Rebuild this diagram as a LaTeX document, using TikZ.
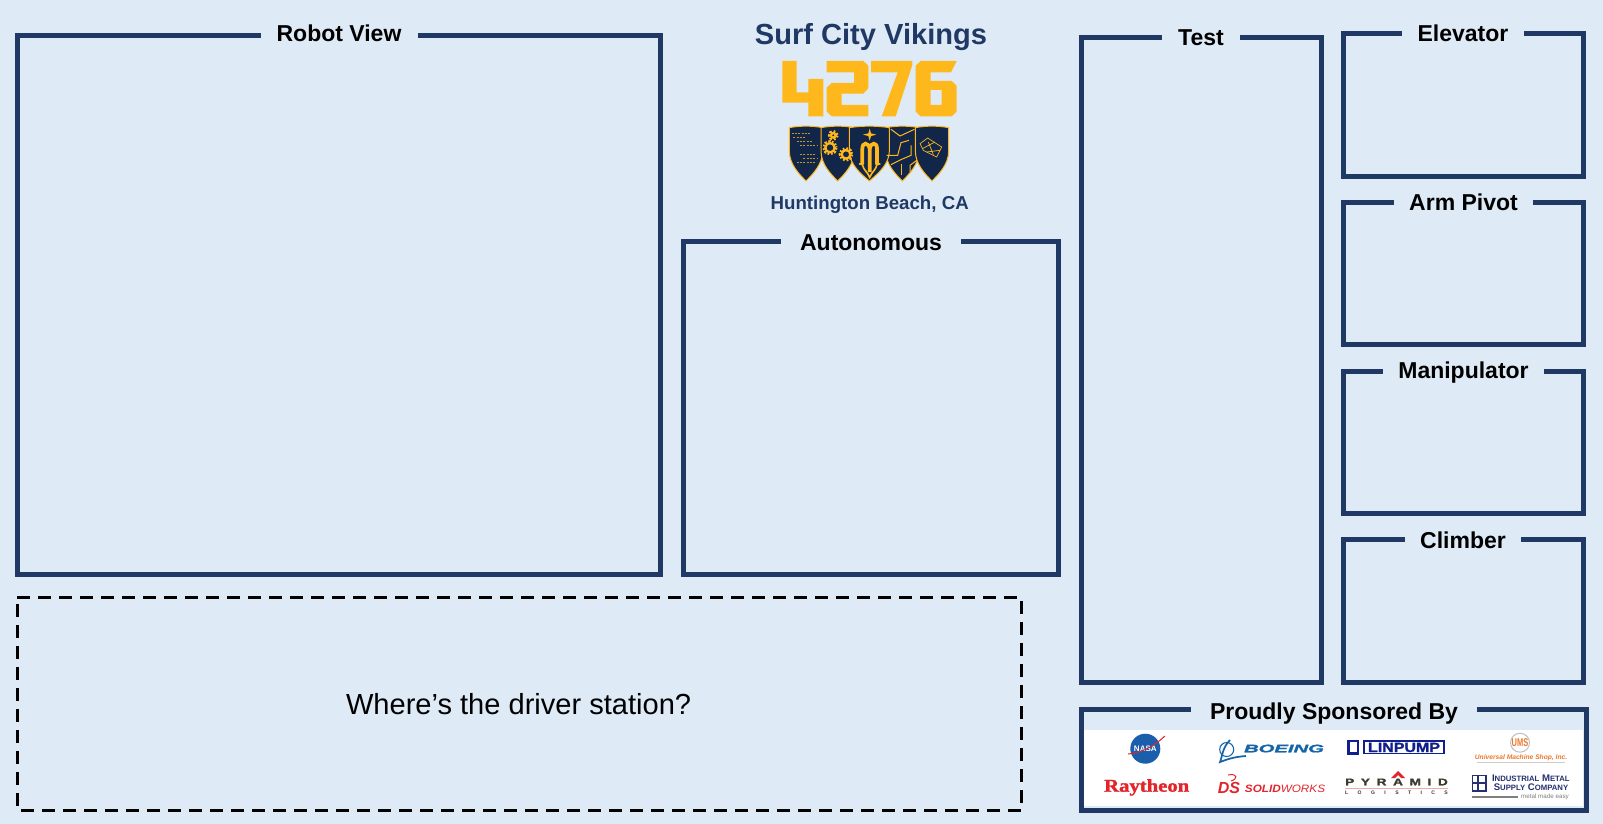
\documentclass[tikz,border=0pt]{standalone}
\usepackage{fontspec}
\usepackage{graphicx}
\setmainfont{Liberation Sans}
\newfontfamily\logoserif[UprightFont=* Bold, FakeBold=1.6]{Liberation Serif}
\newfontfamily\logoheavy[UprightFont=* Bold, ItalicFont=* Bold Italic, FakeBold=1.4]{Liberation Sans}
\usetikzlibrary{calc}
\definecolor{bgBlue}{HTML}{DEEAF6}
\definecolor{panelNavy}{HTML}{1F3864}
\definecolor{logoGold}{HTML}{FFB81C}
\definecolor{shieldNavy}{HTML}{12264A}
\definecolor{nasaBlue}{HTML}{1B5EAB}
\definecolor{boeingBlue}{HTML}{1565A8}
\definecolor{logoRed}{HTML}{E3242B}
\definecolor{pumpBlue}{HTML}{0F1F8C}
\definecolor{umsOrange}{HTML}{E8792B}
\definecolor{pyrGrey}{HTML}{3B3B2F}
\definecolor{imsNavy}{HTML}{25306F}
\definecolor{imsGrey}{HTML}{7F7F7F}
\tikzset{
  panelbox/.style={draw=panelNavy, line width=3.75pt},
  paneltitle/.style={fill=bgBlue, anchor=base, inner sep=0pt, text=black,
                     font=\fontsize{17.25}{20}\selectfont\bfseries},
  headtext/.style={anchor=base, inner sep=0pt, text=panelNavy, font=\bfseries},
  logotext/.style={anchor=base, inner sep=0pt},
  goldline/.style={draw=logoGold, line width=0.75pt},
  pics/shieldfig/.style={code={
    \filldraw[draw=logoGold, fill=shieldNavy, line width=0.75pt]
      (-#1,0) .. controls ({-0.4*#1},-6) and ({0.4*#1},-6) .. (#1,0)
      -- (#1,70) .. controls (#1,110) and ({0.4*#1},140) .. (0,160)
      .. controls ({-0.4*#1},140) and (-#1,110) .. (-#1,70) -- cycle;
  }},
  pics/shieldfig/.default=50,
}
\begin{document}
\begin{tikzpicture}[x=0.75pt, y=-0.75pt]
  \useasboundingbox (0,0) rectangle (1603,824);
  \fill[bgBlue] (0,0) rectangle (1603,824);
  % big panels
  \draw[panelbox] (17.5,35.5) rectangle (660.5,574.5);
  \node[paneltitle, minimum width=117.75pt] (robot) at (339,42) {Robot View};
  \draw[panelbox] (683.5,241.5) rectangle (1058.5,574.5);
  \node[paneltitle, minimum width=135pt] (auto) at (871,250) {Autonomous};
  \draw[panelbox] (1081.5,38) rectangle (1321.5,682.5);
  \node[paneltitle, minimum width=58.5pt] (test) at (1201,46) {Test};
  % small panels (right column)
  \draw[panelbox] (1343.5,34) rectangle (1583.5,176.5);
  \node[paneltitle, minimum width=91.5pt] (elev) at (1463,42) {Elevator};
  \draw[panelbox] (1343.5,202.5) rectangle (1583.5,344.5);
  \node[paneltitle, minimum width=104.25pt] (pivot) at (1463.5,210) {Arm Pivot};
  \draw[panelbox] (1343.5,371.5) rectangle (1583.5,513.5);
  \node[paneltitle, minimum width=120.75pt] (manip) at (1463.5,378) {Manipulator};
  \draw[panelbox] (1343.5,539.5) rectangle (1583.5,682.5);
  \node[paneltitle, minimum width=87pt] (climb) at (1463,548) {Climber};
  % driver station placeholder
  \draw[black, line width=2.25pt, dash pattern=on 9.5pt off 6.25pt]
    (17.3,597.7) -- (1021.7,597.7) -- (1021.7,810.3) -- (17.3,810.3) -- cycle;
  \node[inner sep=0pt, font=\fontsize{21.8}{26}\selectfont] (driver) at (518.6,704) {Where’s the driver station?};
  % team heading
  \node[headtext, font=\fontsize{21.8}{24}\selectfont\bfseries] (team) at (871,44.5) {Surf City Vikings};
  \node[headtext, font=\fontsize{14}{17}\selectfont\bfseries] (city) at (869.7,209) {Huntington Beach, CA};
  % team number
  \begin{scope}[shift={(775,55)}, x=0.25pt, y=-0.25pt]
    \fill[logoGold] (22,18) -- (65,18) -- (65,112) -- (100,112) -- (100,72) -- (145,72)
      -- (145,184) -- (100,184) -- (100,143) -- (22,143) -- cycle;
    \fill[logoGold] (155,18) -- (265,18) -- (280,32) -- (280,100) -- (265,116) -- (200,116)
      -- (200,150) -- (280,150) -- (280,184) -- (170,184) -- (155,170) -- (155,98)
      -- (170,84) -- (237,84) -- (237,52) -- (155,52) -- cycle;
    \fill[logoGold] (288,18) -- (412,18) -- (412,30) -- (362,184) -- (320,184)
      -- (368,52) -- (288,52) -- cycle;
    \fill[logoGold, even odd rule] (437,18) -- (545,18) -- (528,52) -- (467,52) -- (467,78)
      -- (530,78) -- (545,92) -- (545,170) -- (530,184) -- (437,184) -- (422,170)
      -- (422,32) -- cycle (467,105) -- (500,105) -- (500,150) -- (467,150) -- cycle;
  \end{scope}
  % shields
  \begin{scope}[shift={(785,122)}, x=0.25pt, y=-0.25pt]
    \pic at (63,17) {shieldfig};
    \pic at (158,17) {shieldfig};
    \pic at (352,17) {shieldfig};
    \pic at (441,17) {shieldfig};
    \pic at (253,17) {shieldfig=60};
    % writing on the first shield
    \foreach \yy/\xa/\xb in {34/20/80, 46/25/65, 58/35/80, 70/45/100, 98/45/95,
                             110/55/100, 122/35/95}
      \draw[logoGold!75!shieldNavy, line width=0.6pt, dash pattern=on 1.5pt off 1pt] (\xa,\yy) -- (\xb,\yy);
    % gears
    \foreach \xx/\yy/\rr in {145/40/10, 135/77/17, 183/97/16} {
      \draw[logoGold, line width=3pt, dash pattern=on 1.3pt off 1pt] (\xx,\yy) circle[radius=\rr];
      \draw[logoGold, line width=1.6pt] (\xx,\yy) circle[radius=\rr-3];
    }
    % star and M
    \fill[logoGold] (254,20) -- (258,34) -- (274,38) -- (258,42) -- (254,56) -- (250,42) -- (234,38) -- (250,34) -- cycle;
    \draw[logoGold, line width=2.8pt] (232,128) -- (232,80) .. controls (232,60) and (250,60) .. (254,80) -- (254,150);
    \draw[logoGold, line width=2.8pt] (254,80) .. controls (258,60) and (276,60) .. (276,80) -- (276,128);
    \draw[logoGold, line width=1.2pt] (222,125) -- (232,128) .. controls (236,145) and (248,150) .. (254,166)
      .. controls (260,150) and (272,145) .. (276,128) -- (286,125);
    % circuit traces
    \draw[goldline] (318,22) -- (345,42) -- (388,22);
    \draw[goldline] (305,100) -- (338,100) -- (348,62) -- (372,55);
    \draw[goldline] (318,128) -- (350,112) -- (378,100) -- (378,70);
    \draw[goldline] (350,160) -- (350,125);
    \draw[goldline] (395,115) -- (375,130) -- (375,150);
    % sketch on the last shield
    \draw[goldline, line width=0.5pt] (405,65) -- (428,48) -- (470,75) -- (455,105) -- (415,85) -- cycle;
    \draw[goldline, line width=0.5pt] (412,80) -- (450,60) (425,90) -- (465,85) (430,60) -- (445,98);
  \end{scope}
  % sponsors
  \fill[white] (1084,730) rectangle (1583,806);
  \draw[panelbox] (1081.5,709.5) rectangle (1586,810.5);
  \node[paneltitle, minimum width=214.5pt] (sponsor) at (1334,719.5) {Proudly Sponsored By};
  % nasa
  \fill[nasaBlue] (1145.3,748.7) circle[radius=15];
  \node[inner sep=0pt, text=white, font=\fontsize{6}{7}\selectfont\bfseries] (nasa) at (1145.3,749) {NASA};
  \draw[logoRed, line width=0.75pt] (1128,754) .. controls (1145,752) and (1155,745) .. (1165,736);
  % boeing
  \draw[boeingBlue, line width=0.8pt] (1226.7,749.5) circle[radius=7];
  \draw[boeingBlue, line width=1.3pt] (1230,740) .. controls (1222,748) and (1222,758) .. (1220,762) .. controls (1226,760) and (1232,757) .. (1246,756);
  \node[logotext, text=boeingBlue, font=\fontsize{8.2}{10}\selectfont\logoheavy\itshape] (boeing) at (1284,752.3) {\scalebox{1.85}[1]{BOEING}};
  % pump
  \draw[pumpBlue, line width=1.9pt] (1348.5,741) rectangle (1358,753.5);
  \draw[pumpBlue, line width=0.9pt] (1364,741) rectangle (1444,753.5);
  \node[logotext, text=pumpBlue, font=\fontsize{10}{12}\selectfont\logoheavy] (pump) at (1404,752) {\scalebox{1.2}[1]{LINPUMP}};
  % machine shop
  \draw[black!25, line width=0.75pt] (1520,742.7) circle[radius=9.5];
  \node[inner sep=0pt, text=umsOrange, font=\fontsize{7}{8}\selectfont\bfseries] (umsinit) at (1520,742.7) {\scalebox{0.8}[1.2]{UMS}};
  \node[logotext, text=umsOrange, font=\fontsize{5}{7}\selectfont\bfseries\itshape] (ums) at (1521,759.7) {Universal Machine Shop, Inc.};
  \draw[black!20, line width=0.5pt] (1477,762.5) -- (1565,762.5);
  % raytheon
  \node[logotext, text=logoRed, font=\fontsize{13.5}{15}\selectfont\logoserif] (ray) at (1146.7,791.7) {\scalebox{1.15}[1]{Raytheon}};
  % solidworks
  \node[inner sep=0pt, text=logoRed, font=\fontsize{12}{14}\selectfont\bfseries\itshape] (dsmark) at (1229,788) {DS};
  \draw[logoRed, line width=0.75pt] (1228,775) .. controls (1238,773) and (1238,779) .. (1231,781);
  \node[logotext, text=logoRed, font=\fontsize{8}{10}\selectfont] (solid) at (1285,792.7) {\scalebox{1.1}[1]{\bfseries\itshape SOLID\mdseries\itshape WORKS}};
  % pyramid
  \node[logotext, text=pyrGrey, font=\fontsize{7.3}{9}\selectfont\logoheavy] (pyramid) at (1396.5,785.3)
    {\scalebox{1.4}[1]{\makebox[55pt][s]{P\hfill Y\hfill R\hfill A\hfill M\hfill I\hfill D}}};
  \fill[logoRed] (1391,778) -- (1398,771) -- (1405,778) -- (1401,778) -- (1398,775) -- (1395,778) -- cycle;
  \draw[logoRed!40, line width=0.5pt] (1345,788) -- (1448,788);
  \node[logotext, text=pyrGrey, font=\fontsize{3.8}{4}\selectfont\bfseries] (logist) at (1396.5,794.3)
    {\makebox[77pt][s]{L\hfill O\hfill G\hfill I\hfill S\hfill T\hfill I\hfill C\hfill S}};
  % metal supply
  \draw[imsNavy, line width=1.1pt] (1472.5,775.5) rectangle (1486,791);
  \draw[imsNavy, line width=0.9pt] (1472.5,783) -- (1486,783) (1478,775.5) -- (1478,791);
  \node[logotext, text=imsNavy, font=\fontsize{7.2}{8}\selectfont\bfseries] (imsa) at (1530.8,781.7)
    {I{\fontsize{5.8}{8}\selectfont NDUSTRIAL} M{\fontsize{5.8}{8}\selectfont ETAL}};
  \node[logotext, text=imsNavy, font=\fontsize{7.2}{8}\selectfont\bfseries] (imsb) at (1531,790)
    {S{\fontsize{5.8}{8}\selectfont UPPLY} C{\fontsize{5.8}{8}\selectfont OMPANY}};
  \fill[imsGrey] (1471.7,795.5) rectangle (1518.3,798.2);
  \node[logotext, text=imsGrey, font=\fontsize{4.7}{6}\selectfont] (imsc) at (1545,798.3) {metal made easy};
\end{tikzpicture}
\end{document}
